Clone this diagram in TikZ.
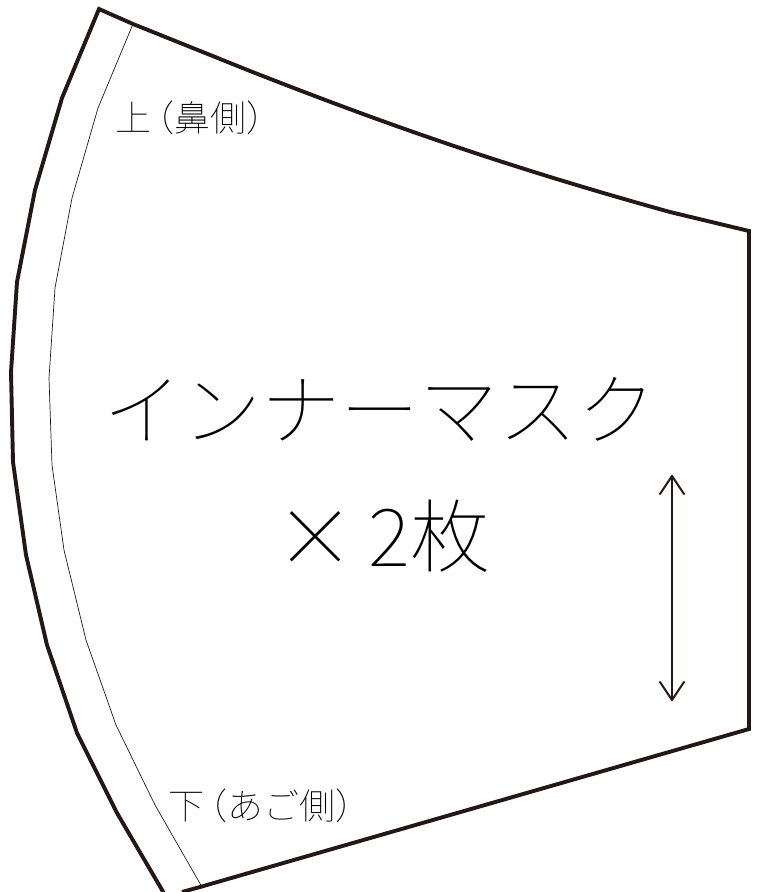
\documentclass[tikz,border=0pt]{standalone}
\usepackage{fontspec}
\newfontfamily\jp{Noto Sans CJK JP Thin}
\tikzset{
 cutline/.style={line width=3.9pt,draw=inkc,line join=miter},
 seam/.style={line width=0.7pt,draw=inkc},
 arrowline/.style={line width=2pt,draw=inkc,line cap=round,line join=round},
 big/.style={font=\jp\fontsize{79}{79}\selectfont,text=black,inner sep=0pt,anchor=center},
 bigb/.style={font=\jp\fontsize{80}{80}\selectfont,text=black,inner sep=0pt,anchor=center},
 small/.style={font=\jp\fontsize{36}{36}\selectfont,text=black,inner sep=0pt,anchor=center}
}
\definecolor{inkc}{RGB}{35,24,21}
\begin{document}
\begin{tikzpicture}[x=1pt,y=-1pt]
\useasboundingbox (0,0) rectangle (758,892);
\fill[white] (0,0) rectangle (758,892);
\draw[cutline] (165,895) -- (117,813) -- (77,733) -- (47,645) -- (26,555) -- (13,462) -- (11,372) -- (17,282) -- (35,190) -- (62,98) -- (99,9)
  -- (133,24) -- (250,71) .. controls (370,118) and (490,162) .. (670,212) -- (749,231) -- (749,729) -- (200,887) -- (182,892);
\draw[seam] (133,24) -- (98,108) -- (72,198) -- (55,288) -- (49,378) -- (52,465) -- (64,550) -- (86,640) -- (116,725) -- (155,805) -- (202,887);
\draw[arrowline] (672,476) -- (672,700);
\draw[arrowline] (660,494) -- (672,476) -- (684,494);
\draw[arrowline] (660,682) -- (672,700) -- (684,682);
\node[big] (t1) at (380,409) {インナーマスク};
\node[bigb] (t2) at (383,536) {×\kern13pt 2枚};
\node[small] (up) at (199,118) {上\kern-13pt（鼻側）};
\node[small] (dn) at (270,806) {下\kern-13pt（あご側）};
\end{tikzpicture}
\end{document}
